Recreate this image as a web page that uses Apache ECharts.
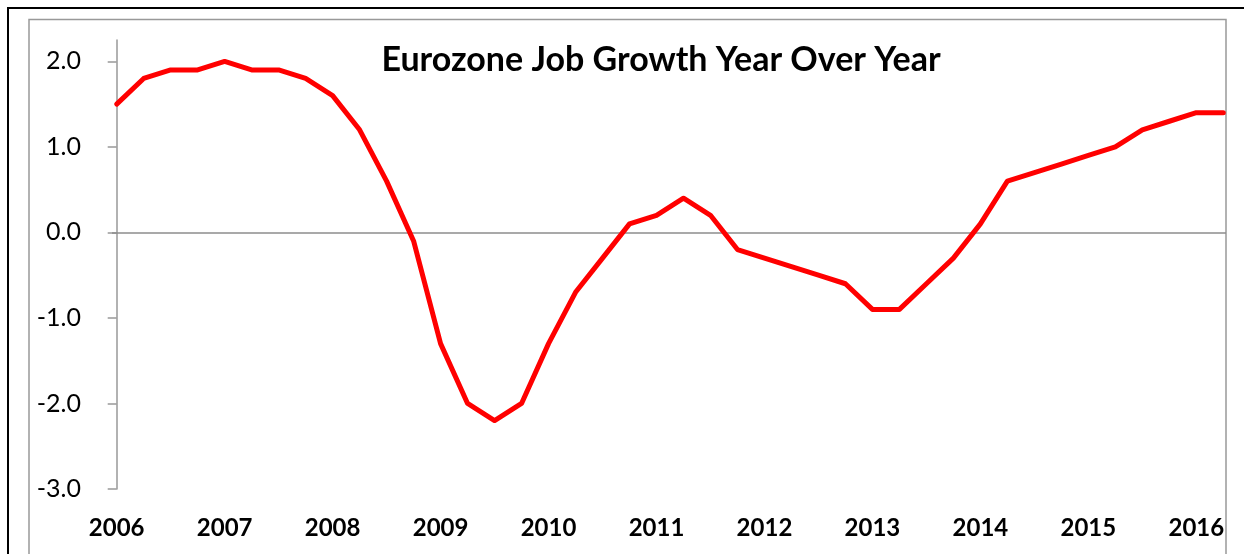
<!DOCTYPE html>
<html>
<head>
<meta charset="utf-8">
<script src="https://cdn.jsdelivr.net/npm/echarts@6/dist/echarts.min.js"></script>
<style>
html,body{margin:0;padding:0;background:#fff;}
#chart{width:1244px;height:554px;}
</style>
</head>
<body>
<div id="chart"></div>
<script>
var quarters = [
  '2006Q1','2006Q2','2006Q3','2006Q4',
  '2007Q1','2007Q2','2007Q3','2007Q4',
  '2008Q1','2008Q2','2008Q3','2008Q4',
  '2009Q1','2009Q2','2009Q3','2009Q4',
  '2010Q1','2010Q2','2010Q3','2010Q4',
  '2011Q1','2011Q2','2011Q3','2011Q4',
  '2012Q1','2012Q2','2012Q3','2012Q4',
  '2013Q1','2013Q2','2013Q3','2013Q4',
  '2014Q1','2014Q2','2014Q3','2014Q4',
  '2015Q1','2015Q2','2015Q3','2015Q4',
  '2016Q1','2016Q2'
];
var jobGrowth = [
  1.5, 1.8, 1.9, 1.9,
  2.0, 1.9, 1.9, 1.8,
  1.6, 1.2, 0.6, -0.1,
  -1.3, -2.0, -2.2, -2.0,
  -1.3, -0.7, -0.3, 0.1,
  0.2, 0.4, 0.2, -0.2,
  -0.3, -0.4, -0.5, -0.6,
  -0.9, -0.9, -0.6, -0.3,
  0.1, 0.6, 0.7, 0.8,
  0.9, 1.0, 1.2, 1.3,
  1.4, 1.4
];
var yearLabels = ['2006','2007','2008','2009','2010','2011','2012','2013','2014','2015','2016'];
var yearTickIndex = [0,4,8,12,16,20,24,28,32,36,40];
var titleText = 'Eurozone Job Growth Year Over Year';

var seriesData = jobGrowth.map(function (v, i) { return [i, v]; });

var chart = echarts.init(document.getElementById('chart'), null, {renderer: 'canvas'});
chart.setOption({
  animation: false,
  backgroundColor: '#fff',
  title: {
    text: titleText,
    left: 656,
    top: 38,
    textAlign: 'center',
    textStyle: {fontFamily: 'Lato', fontWeight: 'bold', fontSize: 34, color: '#000'}
  },
  graphic: [
    {type: 'rect', silent: true, z: -1,
     shape: {x: 8, y: 8, width: 1250, height: 570},
     style: {fill: 'none', stroke: '#000', lineWidth: 2}},
    {type: 'rect', silent: true, z: -1,
     shape: {x: 29, y: 19.5, width: 1197, height: 570},
     style: {fill: 'none', stroke: '#999', lineWidth: 1.5}}
  ],
  grid: {left: 112, right: 18, top: 40, bottom: 65, containLabel: false},
  xAxis: {
    type: 'value',
    min: -0.174,
    max: 41.1,
    axisLine: {show: false},
    axisTick: {show: false},
    splitLine: {show: false},
    axisLabel: {
      customValues: yearTickIndex,
      formatter: function (v) { return yearLabels[yearTickIndex.indexOf(Math.round(v))] || ''; },
      fontFamily: 'Lato', fontWeight: 'bold', fontSize: 24, color: '#000', margin: 27
    }
  },
  yAxis: {
    type: 'value',
    min: -3,
    max: 2.25,
    interval: 1,
    axisLine: {show: true, lineStyle: {color: '#999', width: 1.5}},
    axisTick: {show: true, inside: false, length: 9, lineStyle: {color: '#999', width: 1.5}},
    splitLine: {show: false},
    axisLabel: {
      formatter: function (v) { return v.toFixed(1); },
      fontFamily: 'Lato', fontSize: 25, color: '#000', margin: 31
    }
  },
  series: [{
    type: 'line',
    name: 'Job growth',
    data: seriesData,
    showSymbol: false,
    symbol: 'none',
    lineStyle: {color: '#ff0000', width: 5, cap: 'round', join: 'round'},
    z: 3,
    markLine: {
      silent: true,
      symbol: 'none',
      label: {show: false},
      lineStyle: {color: '#8c8c8c', width: 1.5, type: 'solid'},
      data: [{yAxis: 0}],
      z: 1
    }
  }]
});
</script>
</body>
</html>
